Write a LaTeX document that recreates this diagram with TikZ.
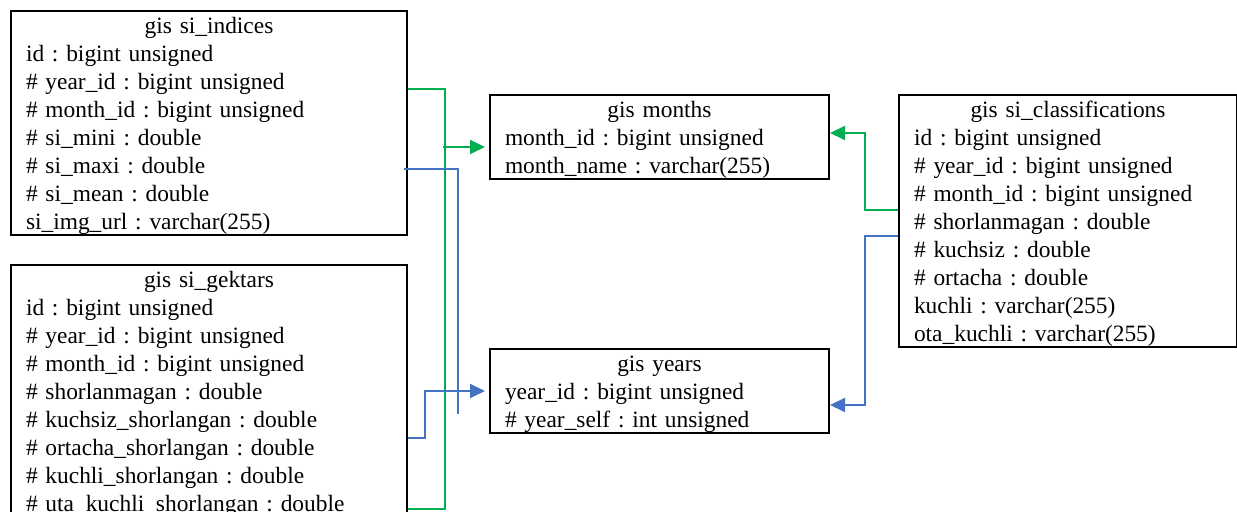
\documentclass[tikz,border=0pt]{standalone}
\usepackage{fontspec}
\setmainfont{Liberation Serif}
\usepackage{xcolor}
\usepackage{tikz}
\usetikzlibrary{arrows.meta, positioning, calc}
\definecolor{linkgreen}{RGB}{0,176,80}
\definecolor{linkblue}{RGB}{68,114,196}
\frenchspacing
\newcommand{\tablefont}{\fontsize{11.7pt}{14pt}\selectfont\lineskiplimit -100pt\relax}
\newcommand{\rowstrut}{\rule[-2.5pt]{0pt}{14pt}}
\newcommand{\tabletitle}[1]{\makebox[\linewidth]{\rowstrut #1}}
\tikzstyle{tablebox} = [rectangle, draw=black, line width=1pt,
anchor=north west, inner xsep=7.5pt, inner ysep=0pt,
align=left, text width=183pt, font=\tablefont]
\tikzstyle{greenlink} = [draw=linkgreen, line width=1pt]
\tikzstyle{bluelink} = [draw=linkblue, line width=1pt]
\tikzstyle{arrow} = [-{Triangle[length=7.5pt, width=7pt]}]

\begin{document}
\begin{tikzpicture}[x=0.5pt, y=-0.5pt]
    \useasboundingbox (0,0) rectangle (1237,512);

    \node (indices) [tablebox] at (10,10) {\tabletitle{gis si\_indices}\\
        \rowstrut id : bigint unsigned\\
        \rowstrut \# year\_id : bigint unsigned\\
        \rowstrut \# month\_id : bigint unsigned\\
        \rowstrut \# si\_mini : double\\
        \rowstrut \# si\_maxi : double\\
        \rowstrut \# si\_mean : double\\
        \rowstrut si\_img\_url : varchar(255)};
    \node (gektars) [tablebox] at (10,264) {\tabletitle{gis si\_gektars}\\
        \rowstrut id : bigint unsigned\\
        \rowstrut \# year\_id : bigint unsigned\\
        \rowstrut \# month\_id : bigint unsigned\\
        \rowstrut \# shorlanmagan : double\\
        \rowstrut \# kuchsiz\_shorlangan : double\\
        \rowstrut \# ortacha\_shorlangan : double\\
        \rowstrut \# kuchli\_shorlangan : double\\
        \rowstrut \# uta\_kuchli\_shorlangan : double};
    \node (months) [tablebox, text width=154.5pt] at (489,94) {\tabletitle{gis months}\\
        \rowstrut month\_id : bigint unsigned\\
        \rowstrut month\_name : varchar(255)};
    \node (years) [tablebox, text width=154.5pt] at (489,348) {\tabletitle{gis years}\\
        \rowstrut year\_id : bigint unsigned\\
        \rowstrut \# year\_self : int unsigned};
    \node (classif) [tablebox, text width=154pt] at (898,94) {\tabletitle{gis si\_classifications}\\
        \rowstrut id : bigint unsigned\\
        \rowstrut \# year\_id : bigint unsigned\\
        \rowstrut \# month\_id : bigint unsigned\\
        \rowstrut \# shorlanmagan : double\\
        \rowstrut \# kuchsiz : double\\
        \rowstrut \# ortacha : double\\
        \rowstrut kuchli : varchar(255)\\
        \rowstrut ota\_kuchli : varchar(255)};

    % month links
    \coordinate (greentap) at (443,147);
    \draw[greenlink] ($(indices.north east)+(0,79)$) -| ($(gektars.north east)+(37,245)$) -- ($(gektars.north east)+(0,245)$);
    \draw[greenlink, arrow, shorten >=2pt] (greentap) -- (months.west |- greentap);
    \draw[greenlink, arrow] ($(classif.north west)+(0,116)$) -| ($(months.north east)+(35,39)$) -- ($(months.north east)+(0,39)$);

    % year links
    \coordinate (blueend) at (458,414);
    \draw[bluelink] ($(indices.north east)+(-4,159)$) -| (blueend);
    \draw[bluelink, arrow, shorten >=2pt] ($(gektars.north east)+(0,174)$) -| ($(years.north west)+(-64,43)$) -- ($(years.north west)+(0,43)$);
    \draw[bluelink, arrow] ($(classif.north west)+(0,142)$) -| ($(years.north east)+(35,57)$) -- ($(years.north east)+(0,57)$);
\end{tikzpicture}
\end{document}
